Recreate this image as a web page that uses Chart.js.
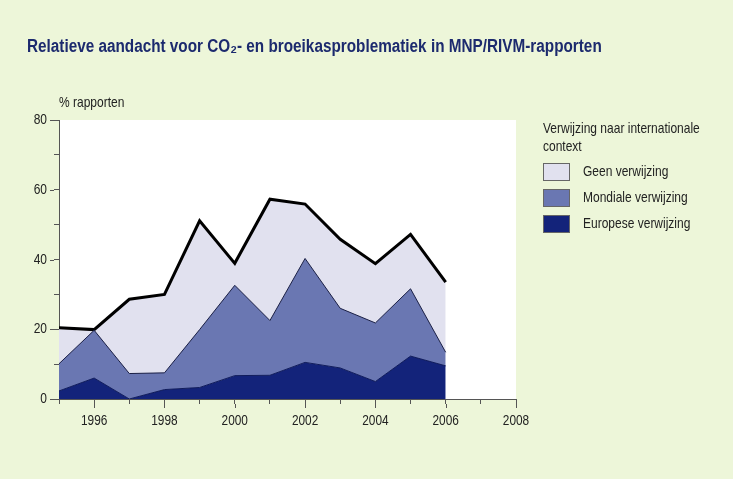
<!DOCTYPE html>
<html>
<head>
<meta charset="utf-8">
<script src="https://cdn.jsdelivr.net/npm/chart.js@4"></script>
<style>
  html, body { margin: 0; padding: 0; background: #edf6d9; }
  #wrap { position: relative; width: 733px; height: 479px; }
</style>
</head>
<body>
<div id="wrap"><canvas id="c" width="733" height="479"></canvas></div>
<script>
// data (% rapporten per year)
const years = [1995, 1996, 1997, 1998, 1999, 2000, 2001, 2002, 2003, 2004, 2005, 2006];
const europese = [2.3, 6.0, 0.0, 2.7, 3.3, 6.7, 6.8, 10.5, 8.9, 5.0, 12.3, 9.5];
const mondiale = [7.8, 13.7, 7.3, 4.8, 16.6, 25.9, 15.7, 29.8, 17.1, 16.8, 19.3, 3.9];
const geen = [10.3, 0.2, 21.3, 22.5, 31.2, 6.3, 34.8, 15.6, 19.8, 17.0, 15.6, 20.1];

const seriesNames = ['Europese verwijzing', 'Mondiale verwijzing', 'Geen verwijzing'];
const titleText = 'Relatieve aandacht voor CO\u2082- en broeikasproblematiek in MNP/RIVM-rapporten';
const yLabel = '% rapporten';
const legendTitle = ['Verwijzing naar internationale', 'context'];

const FONT = "'Liberation Sans', Arial, sans-serif";
const toPts = arr => years.map((x, i) => ({ x: x, y: arr[i] }));

// no narrow font installed, so squeeze text horizontally
function narrowText(ctx, txt, x, y, k, align) {
  ctx.save();
  ctx.translate(x, y);
  ctx.scale(k, 1);
  ctx.textAlign = align || 'left';
  ctx.fillText(txt, 0, 0);
  ctx.restore();
}

// white plot area + titles + tick labels + legend
const decor = {
  id: 'decor',
  beforeDraw(chart) {
    const { ctx, chartArea: a } = chart;
    ctx.save();
    ctx.fillStyle = '#ffffff';
    ctx.fillRect(a.left, a.top, a.right - a.left, a.bottom - a.top);
    ctx.restore();
  },
  afterDraw(chart) {
    const ctx = chart.ctx;
    const xs = chart.scales.x, ys = chart.scales.y;
    const a = chart.chartArea;
    ctx.save();

    // longer tick marks at the labelled values
    ctx.strokeStyle = '#555';
    ctx.lineWidth = 1;
    ctx.beginPath();
    xs.ticks.forEach(t => {
      if (!t.label) return;
      const px = Math.round(xs.getPixelForValue(t.value)) + 0.5;
      ctx.moveTo(px, a.bottom + 5); ctx.lineTo(px, a.bottom + 9);
    });
    ys.ticks.forEach(t => {
      if (!t.label) return;
      const py = Math.round(ys.getPixelForValue(t.value)) + 0.5;
      ctx.moveTo(a.left - 5, py); ctx.lineTo(a.left - 9, py);
    });
    ctx.stroke();

    ctx.textBaseline = 'middle';
    ctx.fillStyle = '#1c2a6e';
    ctx.font = 'bold 18px ' + FONT;
    narrowText(ctx, titleText, 27, 47, 0.85);

    ctx.fillStyle = '#222';
    ctx.font = '15px ' + FONT;
    narrowText(ctx, yLabel, 59, 103, 0.8);

    xs.ticks.forEach(t => {
      if (t.label) narrowText(ctx, t.label, xs.getPixelForValue(t.value), 421, 0.79, 'center');
    });
    ys.ticks.forEach(t => {
      if (t.label) narrowText(ctx, t.label, 47, ys.getPixelForValue(t.value), 0.8, 'right');
    });

    narrowText(ctx, legendTitle[0], 543, 129, 0.8);
    narrowText(ctx, legendTitle[1], 543, 147, 0.8);
    const ds = chart.data.datasets.slice().reverse();
    ds.forEach((d, i) => {
      const y = 163 + i * 26;
      ctx.fillStyle = d.backgroundColor;
      ctx.fillRect(543, y, 27, 18);
      ctx.strokeStyle = '#666';
      ctx.strokeRect(543.5, y + 0.5, 26, 17);
      ctx.fillStyle = '#222';
      narrowText(ctx, d.label, 583, y + 9, 0.8);
    });
    ctx.restore();
  }
};

new Chart(document.getElementById('c'), {
  type: 'line',
  data: {
    datasets: [
      { label: seriesNames[0], data: toPts(europese), backgroundColor: '#13237a', borderColor: '#101c5c', borderWidth: 1, fill: 'origin' },
      { label: seriesNames[1], data: toPts(mondiale), backgroundColor: '#6a77b2', borderColor: '#1a1f45', borderWidth: 1, fill: '-1' },
      { label: seriesNames[2], data: toPts(geen), backgroundColor: '#e1e1ef', borderColor: '#000000', borderWidth: 3, fill: '-1' }
    ]
  },
  options: {
    responsive: false,
    animation: false,
    elements: { point: { radius: 0 }, line: { tension: 0 } },
    layout: { padding: { top: 120, right: 217, left: 0, bottom: 0 } },
    plugins: { legend: { display: false }, title: { display: false }, tooltip: { enabled: false } },
    scales: {
      x: {
        type: 'linear', min: 1995, max: 2008,
        grid: { drawOnChartArea: false, tickLength: 5, color: '#555' },
        border: { color: '#555' },
        ticks: {
          stepSize: 1, autoSkip: false, maxRotation: 0,
          color: 'rgba(0,0,0,0)', font: { family: FONT, size: 14 },
          callback: v => (v % 2 === 0 ? String(v) : '')
        },
        afterFit: s => { s.height = 80; }
      },
      y: {
        stacked: true, min: 0, max: 80,
        grid: { drawOnChartArea: false, tickLength: 5, color: '#555' },
        border: { color: '#555' },
        ticks: {
          stepSize: 10, autoSkip: false,
          color: 'rgba(0,0,0,0)', font: { family: FONT, size: 14 },
          callback: v => (v % 20 === 0 ? String(v) : '')
        },
        afterFit: s => { s.width = 59; }
      }
    }
  },
  plugins: [decor]
});
</script>
</body>
</html>
